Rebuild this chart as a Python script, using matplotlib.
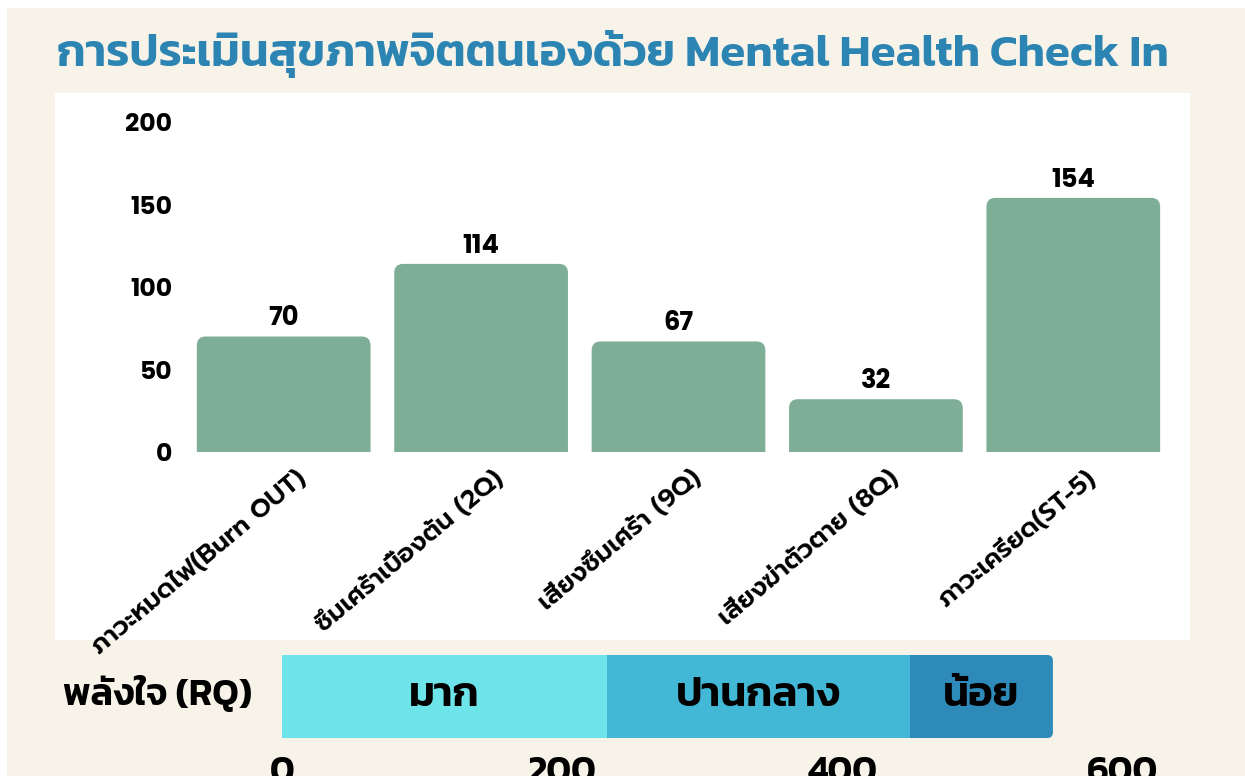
import matplotlib
matplotlib.use("Agg")
import matplotlib.pyplot as plt
from matplotlib.patches import Rectangle, FancyBboxPatch

# data
categories = ["ภาวะหมดไฟ(Burn OUT)", "ซึมเศร้าเบื้องต้น (2Q)", "เสี่ยงซึมเศร้า (9Q)",
              "เสี่ยงฆ่าตัวตาย (8Q)", "ภาวะเครียด(ST-5)"]
counts = [70, 114, 67, 32, 154]
y_ticks = [0, 50, 100, 150, 200]

rq_levels = ["มาก", "ปานกลาง", "น้อย"]
rq_values = [232, 216, 102]
rq_ticks = [0, 200, 400, 600]

cream = "#f7f3e9"
bar_color = "#7fae96"
rq_colors = ["#6ce4e9", "#43b7d6", "#2e8bb9"]
title_color = "#2c84b3"
num_font = ["Poppins", "DejaVu Sans"]
thai_font = ["Kanit", "DejaVu Sans"]

W, H = 1245, 776
fig = plt.figure(figsize=(W / 100, H / 100), dpi=100, facecolor=cream)

def px(x0, y0, x1, y1):
    # pixel box (top-left origin) -> figure fraction rect
    return [x0 / W, 1 - y1 / H, (x1 - x0) / W, (y1 - y0) / H]

# white page edges and white panel behind the bar chart
for box in [(0, 0, W, 8), (0, 0, 7, H), (55, 93, 1190, 640)]:
    l, b, w, h = px(*box)
    fig.patches.append(Rectangle((l, b), w, h, transform=fig.transFigure,
                                 facecolor="white", edgecolor="none", zorder=-1))

fig.text(57 / W, 1 - 54 / H, "การประเมินสุขภาพจิตตนเองด้วย Mental Health Check In",
         family=thai_font, fontsize=33, fontweight="semibold",
         color=title_color, ha="left", va="center")

# main bar chart
ax = fig.add_axes(px(185, 122, 1172, 452))
ax.set_facecolor("none")
x = list(range(len(categories)))
bars = ax.bar(x, counts, width=0.88, color=bar_color)
ax.set_xlim(-0.5, len(categories) - 0.5)
ax.set_ylim(0, 200)

r = 0.045
for b in bars:
    b.set_visible(False)
    ax.add_patch(FancyBboxPatch((b.get_x(), -20), b.get_width(), b.get_height() + 20,
                                boxstyle=f"round,pad=0,rounding_size={r}",
                                mutation_aspect=120, facecolor=bar_color,
                                edgecolor="none", clip_on=True))
for xi, v in zip(x, counts):
    ax.annotate(str(v), (xi, v), xytext=(0, 3), textcoords="offset points",
                ha="center", va="bottom", family=num_font,
                fontsize=18.5, fontweight="bold")

ax.set_yticks(y_ticks)
ax.set_yticklabels([str(t) for t in y_ticks], family=num_font,
                   fontsize=18, fontweight="bold")
ax.tick_params(axis="y", length=0, pad=9)
ax.set_xticks([xi + 0.06 for xi in x])
ax.set_xticklabels(categories, rotation=40, ha="right", va="top",
                   rotation_mode="anchor", family=["Prompt", "DejaVu Sans"],
                   fontsize=18.5, fontweight="semibold")
ax.tick_params(axis="x", length=0, pad=10)
for s in ax.spines.values():
    s.set_visible(False)

# RQ stacked bar
ax2 = fig.add_axes(px(282, 655, 1123, 738))
ax2.set_facecolor("none")
lefts = [sum(rq_values[:i]) for i in range(len(rq_values))]
segs = ax2.barh([0] * len(rq_values), rq_values, left=lefts, height=1,
                color=rq_colors, zorder=2)
last = segs[-1]
last.set_visible(False)
ax2.add_patch(FancyBboxPatch((last.get_x() - 20, last.get_y()), last.get_width() + 20,
                             last.get_height(), boxstyle="round,pad=0,rounding_size=4",
                             mutation_aspect=0.017, facecolor=rq_colors[-1],
                             edgecolor="none", zorder=1))
for lbl, l, v in zip(rq_levels, lefts, rq_values):
    ax2.text(l + v / 2, 0, lbl, ha="center", va="center",
             family=thai_font, fontsize=30, fontweight="semibold", zorder=3)
ax2.set_xlim(0, 600)
ax2.set_ylim(-0.5, 0.5)
ax2.set_yticks([])
ax2.set_xticks(rq_ticks)
ax2.set_xticklabels([str(t) for t in rq_ticks], family=thai_font,
                    fontsize=27, fontweight="semibold")
ax2.tick_params(axis="x", length=0, pad=13)
for s in ax2.spines.values():
    s.set_visible(False)

fig.text(252 / W, 1 - 695 / H, "พลังใจ (RQ)", family=thai_font,
         fontsize=27, fontweight="semibold", ha="right", va="center")

fig.savefig("out.png", dpi=100, facecolor=cream)
